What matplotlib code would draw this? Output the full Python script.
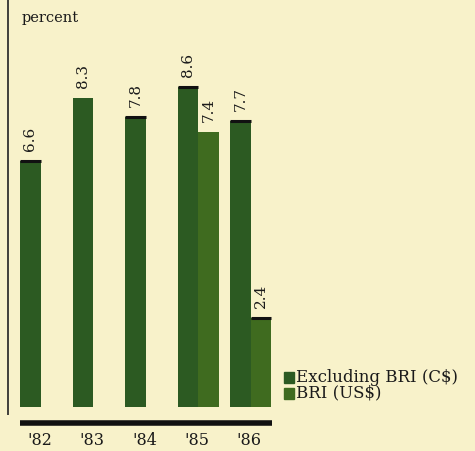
import matplotlib
matplotlib.use("Agg")
import matplotlib.pyplot as plt
from matplotlib.patches import Rectangle

years = ["'82", "'83", "'84", "'85", "'86"]
excl_bri = [6.6, 8.3, 7.8, 8.6, 7.7]
bri = [None, None, None, 7.4, 2.4]
excl_caps = [True, False, True, True, True]
bri_caps = [False, False, False, False, True]

bg = "#f8f2ca"
dark = "#2c5a22"
light = "#3f6b1f"
serif = ["DejaVu Serif"]

fig = plt.figure(figsize=(4.75, 4.51), dpi=100, facecolor=bg)
ax = fig.add_axes([0, 0, 1, 1])
ax.set_facecolor(bg)
ax.set_xlim(-0.58, 8.47)
ax.set_ylim(-1.18, 10.94)
ax.axis("off")

w = 0.39
x = list(range(len(years)))
ax.bar(x, excl_bri, width=w, color=dark, align="center", zorder=2)
bx = [i + w for i, v in enumerate(bri) if v is not None]
bv = [v for v in bri if v is not None]
ax.bar(bx, bv, width=w, color=light, align="center", zorder=2)

for i, v in enumerate(excl_bri):
    if excl_caps[i]:
        ax.hlines(v, i - w / 2, i + w / 2, color="#111111", lw=2.2, zorder=3)
    ax.text(i, v + 0.27, f"{v}", rotation=90, ha="center", va="bottom",
            fontsize=11, family=serif, color="#1a1a1a")
for i, v in enumerate(bri):
    if v is None:
        continue
    if bri_caps[i]:
        ax.hlines(v, i + w / 2, i + w * 1.5, color="#111111", lw=2.2, zorder=3)
    ax.text(i + w, v + 0.27, f"{v}", rotation=90, ha="center", va="bottom",
            fontsize=11, family=serif, color="#1a1a1a")

# base line and left axis
ax.hlines(-0.43, -0.19, 4.6, color="#111111", lw=4, zorder=3)
ax.vlines(-0.43, -0.22, 10.94, color="#222222", lw=1.2)

for i, y in enumerate(years):
    ax.text(i + 0.17, -0.9, y, ha="center", va="center", fontsize=11.5,
            family=serif, color="#1a1a1a")

ax.text(-0.16, 10.45, "percent", ha="left", va="center", fontsize=10.5,
        family=serif, color="#1a1a1a")

# legend
for k, (lab, col) in enumerate([("Excluding BRI (C$)", dark), ("BRI (US$)", light)]):
    yv = 0.80 - k * 0.43
    ax.add_patch(Rectangle((4.84, yv - 0.14), 0.19, 0.28, color=col))
    ax.text(5.06, yv, lab, ha="left", va="center", fontsize=12,
            family=serif, color="#1a1a1a")

fig.savefig("out.png", dpi=100, facecolor=bg)
